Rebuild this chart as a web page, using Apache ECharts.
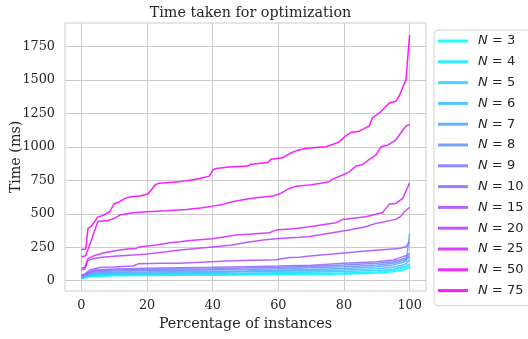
<!DOCTYPE html>
<html>
<head>
<meta charset="utf-8">
<script src="https://cdn.jsdelivr.net/npm/echarts@6/dist/echarts.min.js"></script>
<style>html,body{margin:0;padding:0;background:#fff}#c{width:528px;height:339px}</style>
</head>
<body>
<div id="c"></div>
<script>
// Series labels
const seriesNames = ['3','4','5','6','7','8','9','10','15','20','25','50','75'];
// Tick labels
const xTicks = [0, 20, 40, 60, 80, 100];
const yTicks = [0, 250, 500, 750, 1000, 1250, 1500, 1750];
// Data: [percentage of instances, time in ms]
const n3  = [[0,14],[2,25],[4,32],[10,36],[20,38],[30,40],[40,41],[50,42],[60,44],[70,46],[80,50],[90,55],[95,66],[98,80],[99,86],[100,100]];
const n4  = [[0,18],[2,30],[4,38],[10,42],[20,44],[30,46],[40,47],[50,49],[60,52],[70,55],[80,58],[90,65],[95,76],[98,92],[99,98],[100,110]];
const n5  = [[0,22],[2,35],[4,43],[10,48],[20,50],[30,52],[40,54],[50,56],[60,60],[70,64],[80,68],[90,76],[95,88],[98,104],[99,110],[100,125]];
const n6  = [[0,25],[2,40],[4,50],[10,55],[20,57],[30,60],[40,62],[50,66],[60,70],[70,75],[80,80],[90,90],[95,102],[98,118],[99,128],[100,160]];
const n7  = [[0,28],[2,45],[4,58],[10,63],[20,65],[30,68],[40,70],[50,73],[60,78],[70,84],[80,92],[90,104],[95,118],[98,138],[99,150],[100,352]];
const n8  = [[0,30],[2,50],[4,65],[10,72],[20,75],[30,78],[40,81],[50,84],[60,90],[70,96],[80,104],[90,117],[95,130],[98,150],[99,160],[100,178]];
const n9  = [[0,32],[2,55],[4,72],[10,80],[20,84],[30,87],[40,90],[50,94],[60,100],[70,106],[80,117],[90,130],[95,142],[98,162],[99,172],[100,190]];
const n10 = [[0,35],[2,60],[4,80],[10,88],[20,93],[30,97],[40,100],[50,105],[60,110],[70,116],[80,130],[90,142],[95,155],[98,180],[99,188],[100,205]];
const n15 = [[0,42],[1,48],[2.5,80],[4,90],[6,100],[10,103],[15.7,110],[17.5,127],[25,130],[30,131],[38,140],[46,149],[56,154],[59.3,156],[63.4,174],[66.4,176],[69.5,184],[76.5,199],[86.7,221],[96.8,241],[98.9,254],[100,290]];
const n20 = [[0,82],[1,86],[2,150],[3,160],[5.6,174],[10,182],[15.7,192],[20,200],[25.9,216],[30,229],[40,252],[46,266],[50,285],[56,305],[60.3,316],[66.4,324],[69.5,330],[75.5,354],[81.6,378],[86.7,403],[89.7,428],[95.8,458],[97.4,483],[98.4,515],[100,548]];
const n25 = [[0,95],[1,98],[2,165],[3,178],[4.3,190],[6.6,207],[11.7,229],[14,236],[16.7,241],[17.5,252],[22.8,266],[27,284],[30,291],[33,300],[40,313],[47,341],[52,348],[57.3,358],[59.3,378],[65.4,390],[69.5,403],[72.5,415],[77.6,433],[79.6,458],[86.7,477],[91.8,510],[93.8,572],[95.8,577],[97.9,615],[100,731]];
const n50 = [[0,178],[1.3,186],[3,300],[5,442],[8,450],[10,465],[11.7,490],[15.7,507],[20,515],[25.9,522],[32,532],[37,545],[40,557],[43,570],[46,589],[50,609],[54,622],[58.3,632],[60.3,647],[63.4,689],[65.4,706],[69.5,714],[72.5,726],[75.5,739],[76.5,759],[79.6,789],[81.6,813],[83.7,856],[85.7,868],[87.7,906],[89.7,938],[91.3,1000],[93.3,1012],[95.8,1050],[96.8,1087],[98.9,1156],[100,1167]];
const n75 = [[0,233],[1.3,236],[2,390],[3,405],[5,475],[6.6,488],[8.6,515],[10,575],[11.7,590],[13.2,615],[15.2,627],[17.7,632],[20.3,647],[22.6,718],[23.6,727],[27,734],[30,740],[33,751],[36,764],[39,781],[40,826],[41,838],[45,850],[50.7,856],[51.7,870],[56.8,883],[57.8,908],[61.3,918],[63.4,950],[65.4,970],[68.5,990],[74.5,1000],[76.5,1017],[78.6,1037],[80.1,1074],[82.1,1107],[84.7,1117],[87.7,1156],[88.7,1219],[90.8,1253],[93.8,1328],[95.8,1341],[96.8,1378],[98.9,1502],[100,1835]];
const allData = [n3,n4,n5,n6,n7,n8,n9,n10,n15,n20,n25,n50,n75];
const colors = ['#00ffff','#15eaff','#2ad5ff','#40bfff','#55aaff','#6a95ff','#8080ff','#956aff','#aa55ff','#bf40ff','#d52aff','#ea15ff','#ff00ff'];

const textColor = '#262626';
const serif = 'DejaVu Serif';
const chart = echarts.init(document.getElementById('c'), null, {renderer: 'canvas'});
const series = allData.map((d, i) => ({
  name: 'N = ' + seriesNames[i],
  type: 'line',
  data: d,
  symbol: 'none',
  showSymbol: false,
  silent: true,
  animation: false,
  lineStyle: {width: 1.5, color: colors[i], opacity: 0.9},
  itemStyle: {color: colors[i]}
}));
chart.setOption({
  animation: false,
  backgroundColor: '#fff',
  title: {
    text: 'Time taken for optimization',
    left: 245.5, textAlign: 'center', top: 1,
    textStyle: {fontFamily: serif, fontSize: 14.3, fontWeight: 'normal', color: textColor}
  },
  grid: {left: 65, top: 23, width: 361, height: 268, show: true, borderColor: '#cccccc', borderWidth: 1,
         containLabel: false, outerBoundsMode: 'none'},
  xAxis: {
    type: 'value', min: -5, max: 105,
    name: 'Percentage of instances', nameLocation: 'middle', nameGap: 26, nameMoveOverlap: false,
    nameTextStyle: {fontFamily: serif, fontSize: 14.3, color: textColor},
    axisLine: {show: false}, axisTick: {show: false, customValues: xTicks},
    axisLabel: {customValues: xTicks, formatter: v => String(v), fontFamily: serif, fontSize: 12.8, color: textColor, margin: 8},
    splitLine: {show: true, lineStyle: {color: '#cccccc', width: 1}}
  },
  yAxis: {
    type: 'value', min: -77, max: 1925,
    name: 'Time (ms)', nameLocation: 'middle', nameGap: 42, nameRotate: 90, nameMoveOverlap: false,
    nameTextStyle: {fontFamily: serif, fontSize: 14.3, color: textColor},
    axisLine: {show: false}, axisTick: {show: false, customValues: yTicks},
    axisLabel: {customValues: yTicks, formatter: v => String(v), fontFamily: serif, fontSize: 12.8, color: textColor, margin: 10},
    splitLine: {show: true, lineStyle: {color: '#cccccc', width: 1}}
  },
  legend: {
    orient: 'vertical', left: 434, top: 30,
    padding: [4, 60, 8, 4],
    itemWidth: 30, itemHeight: 14, itemGap: 6.8,
    borderColor: '#d0d0d0', borderWidth: 1, borderRadius: 4,
    backgroundColor: 'rgba(255,255,255,0.8)',
    icon: 'path://M0,6 L30,6 L30,9 L0,9 Z',
    data: series.map((s, i) => ({name: s.name, itemStyle: {color: colors[i], opacity: 0.9}})),
    formatter: name => '{i|N} = ' + name.slice(4),
    textStyle: {
      fontFamily: 'DejaVu Sans', fontSize: 13, color: textColor, lineHeight: 14, padding: [0, 0, 0, 5],
      rich: {i: {fontFamily: 'DejaVu Sans', fontStyle: 'italic', fontSize: 13, color: textColor}}
    }
  },
  series: series
});
</script>
</body>
</html>
